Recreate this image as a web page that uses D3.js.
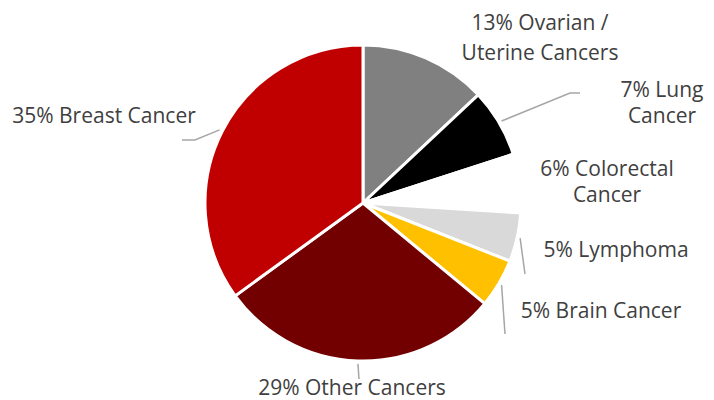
<!DOCTYPE html>
<html>
<head>
<meta charset="utf-8">
<script src="https://cdn.jsdelivr.net/npm/d3@7"></script>
<style>
  body { margin: 0; background: #fff; }
  svg { display: block; }
  text { font-family: "Open Sans", sans-serif; font-size: 21px; fill: #404040; }
</style>
</head>
<body>
<div id="chart"></div>
<script>
// data
const categories = ["Ovarian / Uterine Cancers", "Lung Cancer", "Colorectal Cancer", "Lymphoma", "Brain Cancer", "Other Cancers", "Breast Cancer"];
const values = [13, 7, 6, 5, 5, 29, 35];
const labelLines = [
  ["13% Ovarian /", "Uterine Cancers"],
  ["7% Lung", "Cancer"],
  ["6% Colorectal", "Cancer"],
  ["5% Lymphoma"],
  ["5% Brain Cancer"],
  ["29% Other Cancers"],
  ["35% Breast Cancer"]
];
const colors = ["#808080", "#000000", "#ffffff", "#d9d9d9", "#ffc000", "#720000", "#c00000"];

// layout
const WIDTH = 714;
const HEIGHT = 400;
const CX = 363;
const CY = 203;
const RADIUS = 158;
const LEADER_R = 161;

// manual label placement (center x, first baseline y, line height)
const labelPos = [
  [540, 30, 30],
  [662, 97, 26],
  [607, 176, 26],
  [616, 257, 0],
  [601, 318, 0],
  [352, 395, 0],
  [104, 123, 0]
];
// leader line bend/end points, null = no leader
const leaderPts = [
  null,
  [[570, 93], [580, 93]],
  null,
  [[525, 274]],
  [[505, 334]],
  [[359, 379]],
  [[195, 140], [182, 140]]
];

const svg = d3.select("#chart").append("svg")
  .attr("width", WIDTH)
  .attr("height", HEIGHT);

const pie = d3.pie().sort(null).value(d => d);
const arcs = pie(values);
const arc = d3.arc().innerRadius(0).outerRadius(RADIUS);

const g = svg.append("g").attr("transform", `translate(${CX},${CY})`);

g.selectAll("path")
  .data(arcs)
  .enter()
  .append("path")
  .attr("d", arc)
  .attr("fill", (d, i) => colors[i])
  .attr("stroke", "#fff")
  .attr("stroke-width", 3)
  .attr("stroke-linejoin", "miter");

// leader lines
const line = d3.line();
arcs.forEach((d, i) => {
  if (!leaderPts[i]) return;
  const mid = (d.startAngle + d.endAngle) / 2;
  const start = [CX + LEADER_R * Math.sin(mid), CY - LEADER_R * Math.cos(mid)];
  svg.append("path")
    .attr("d", line([start].concat(leaderPts[i])))
    .attr("fill", "none")
    .attr("stroke", "#a6a6a6")
    .attr("stroke-width", 1.5);
});

// labels
const labels = svg.append("g")
  .selectAll("text")
  .data(labelLines)
  .enter()
  .append("text")
  .attr("text-anchor", "middle")
  .attr("x", (d, i) => labelPos[i][0])
  .attr("y", (d, i) => labelPos[i][1]);

labels.each(function(lines, i) {
  const t = d3.select(this);
  lines.forEach((s, j) => {
    t.append("tspan")
      .attr("x", labelPos[i][0])
      .attr("y", labelPos[i][1] + j * labelPos[i][2])
      .text(s);
  });
});
</script>
</body>
</html>
